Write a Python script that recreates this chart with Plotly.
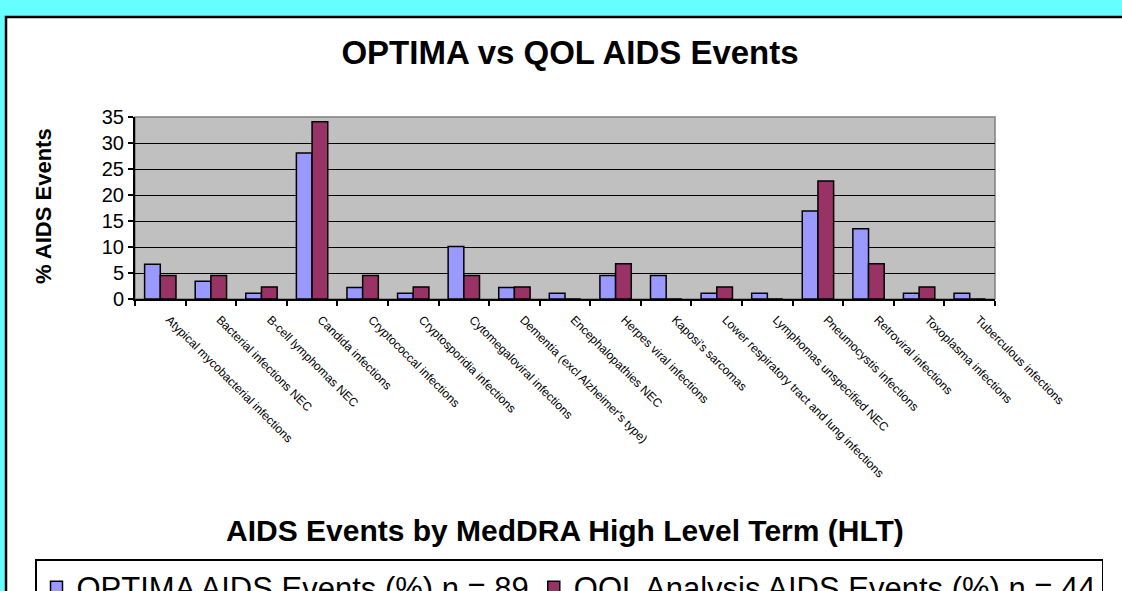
import plotly.graph_objects as go

categories = [
    "Atypical mycobacterial infections",
    "Bacterial infections NEC",
    "B-cell lymphomas NEC",
    "Candida infections",
    "Cryptococcal infections",
    "Cryptosporidia infections",
    "Cytomegaloviral infections",
    "Dementia (excl Alzheimer's type)",
    "Encephalopathies NEC",
    "Herpes viral infections",
    "Kaposi's sarcomas",
    "Lower respiratory tract and lung infections",
    "Lymphomas unspecified NEC",
    "Pneumocystis infections",
    "Retroviral infections",
    "Toxoplasma infections",
    "Tuberculous infections",
]
optima = [6.7, 3.4, 1.1, 28.1, 2.2, 1.1, 10.1, 2.2, 1.1, 4.5, 4.5, 1.1, 1.1, 16.9, 13.5, 1.1, 1.1]
qol = [4.5, 4.5, 2.3, 34.1, 4.5, 2.3, 4.5, 2.3, 0, 6.8, 0, 2.3, 0, 22.7, 6.8, 2.3, 0]

W, H = 1122, 591
L, R, T, B = 135, 995, 117, 299   # plot area in pixels
PW = W - L                        # paper width (right margin 0)

def px2x(p):
    return (p - L) / PW

def px2y(p):
    return (B - p) / (B - T)

fig = go.Figure()
fig.add_trace(go.Bar(x=categories, y=optima, name="OPTIMA AIDS Events (%) n = 89",
                     marker=dict(color="#9999FF", line=dict(color="black", width=1.5))))
fig.add_trace(go.Bar(x=categories, y=qol, name="QOL Analysis AIDS Events (%) n = 44",
                     marker=dict(color="#993366", line=dict(color="black", width=1.5))))

fig.update_layout(
    width=W, height=H,
    margin=dict(l=L, r=0, t=T, b=H - B, pad=0, autoexpand=False),
    paper_bgcolor="#66FFFF",
    plot_bgcolor="rgba(0,0,0,0)",
    barmode="group",
    bargap=0.38,
    bargroupgap=0,
    font=dict(family="Liberation Sans, Arial", color="black"),
    title=dict(text="<b>OPTIMA vs QOL AIDS Events</b>", x=570 / W, xref="container",
               xanchor="center", y=1 - 52 / H, yanchor="middle",
               font=dict(size=33, color="black")),
    showlegend=True,
    legend=dict(orientation="h", x=px2x(35), xanchor="left", y=px2y(559), yanchor="top",
                bgcolor="white", bordercolor="black", borderwidth=1.5,
                font=dict(size=31, color="black"), itemwidth=30,
                traceorder="normal", tracegroupgap=0),
    xaxis=dict(
        type="category", domain=[0, (R - L) / PW],
        tickson="boundaries", ticks="outside", ticklen=5,
        tickcolor="black", tickwidth=1.5, tickangle=45,
        tickfont=dict(size=12, color="black"),
        ticklabelstandoff=7, ticklabelshift=9,
        showline=True, linecolor="black", linewidth=2, showgrid=False,
        automargin=False,
    ),
    yaxis=dict(
        range=[0, 35], dtick=5, ticks="outside", ticklen=5, tickcolor="black", tickwidth=1.5,
        tickfont=dict(size=20, color="black"),
        showline=True, linecolor="black", linewidth=2,
        showgrid=True, gridcolor="black", gridwidth=1.2, zeroline=False,
        automargin=False,
    ),
    shapes=[
        dict(type="rect", xref="paper", yref="paper", x0=px2x(6), x1=px2x(1140),
             y0=px2y(610), y1=px2y(17), fillcolor="white",
             line=dict(color="black", width=2.5), layer="below"),
        dict(type="rect", xref="x domain", yref="y domain", x0=0, x1=1, y0=0, y1=1,
             fillcolor="#C0C0C0", line=dict(color="#808080", width=1.5), layer="below"),
    ],
    annotations=[
        dict(text="<b>AIDS Events by MedDRA High Level Term (HLT)</b>", xref="paper", yref="paper",
             x=px2x(565), y=px2y(530), xanchor="center", yanchor="middle", showarrow=False,
             font=dict(size=30, color="black")),
        dict(text="<b>% AIDS Events</b>", xref="paper", yref="paper",
             x=px2x(43), y=px2y(206), xanchor="center", yanchor="middle", showarrow=False,
             textangle=-90, font=dict(size=22, color="black")),
    ],
)

fig.write_html("out.html", config={"displayModeBar": False},
               post_script="document.body.style.margin='0';document.body.style.overflow='hidden';")
